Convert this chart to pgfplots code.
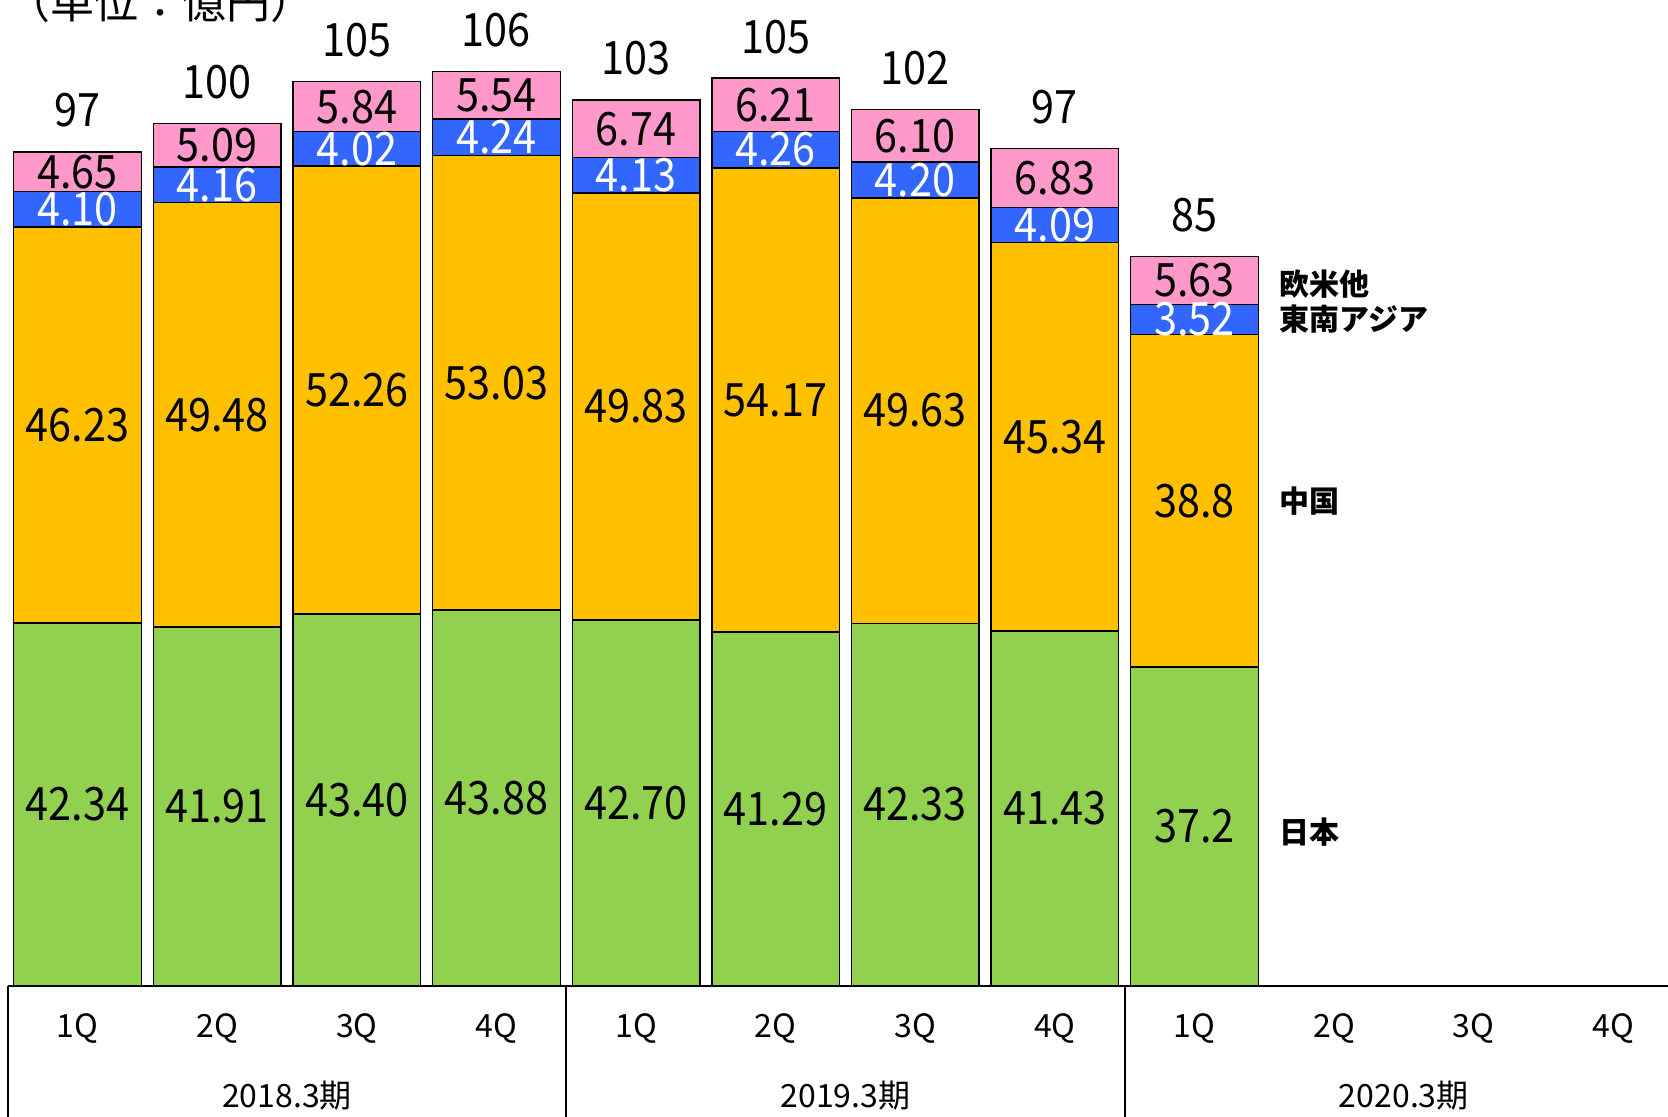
\documentclass[border=0pt]{standalone}
\usepackage{fontspec}
\usepackage{pgfplots}
\usepackage{pgfplotstable}
\pgfplotsset{compat=1.18}
\setmainfont{Noto Sans CJK JP}
\newfontfamily\numf{Noto Sans CJK JP}[FakeStretch=0.9]

\definecolor{cjp}{HTML}{92D050}
\definecolor{ccn}{HTML}{FFC000}
\definecolor{csea}{HTML}{3366FF}
\definecolor{ceu}{HTML}{FF99CC}

% 売上高 地域別 (億円)
\pgfplotstableread{
x jp    cn    sea  eu   tot
0 42.34 46.23 4.10 4.65 97
1 41.91 49.48 4.16 5.09 100
2 43.40 52.26 4.02 5.84 105
3 43.88 53.03 4.24 5.54 106
4 42.70 49.83 4.13 6.74 103
5 41.29 54.17 4.26 6.21 105
6 42.33 49.63 4.20 6.10 102
7 41.43 45.34 4.09 6.83 97
8 37.2  38.8  3.52 5.63 85
}\sales

\pgfplotsset{
  base/.style={
    at={(3.9pt,65.5pt)}, anchor=south west,
    scale only axis, width=837.6pt, height=492.8pt,
    xmin=-0.5, xmax=11.5, ymin=0, ymax=115,
    clip=false,
  },
  lbl/.style={draw=none, mark=none, nodes near coords,
    point meta=explicit symbolic,
    every node near coord/.append style={anchor=center, inner sep=0pt,
      font=\numf\fontsize{23}{23}\selectfont, #1}},
}

\begin{document}
\begin{tikzpicture}
\begin{axis}[base,
    ybar stacked, bar width=63.8pt,
    axis y line=none, axis x line*=bottom,
    x axis line style={-, line width=1pt},
    xtick={0,...,11}, xtick style={draw=none},
    xticklabels={1Q,2Q,3Q,4Q,1Q,2Q,3Q,4Q,1Q,2Q,3Q,4Q},
    xticklabel style={anchor=center, yshift=-21.3pt, font=\fontsize{16}{16}\selectfont},
    every axis plot/.append style={draw=black, line width=0.7pt},
  ]
  \addplot[fill=cjp] table[x=x, y=jp] {\sales};
  \addplot[fill=ccn] table[x=x, y=cn] {\sales};
  \addplot[fill=csea] table[x=x, y=sea] {\sales};
  \addplot[fill=ceu] table[x=x, y=eu] {\sales};

  \draw[line width=1pt] (axis cs:-0.5,0) -- (axis cs:-0.5,-40);
  \draw[line width=1pt] (axis cs:3.5,0) -- (axis cs:3.5,-40);
  \draw[line width=1pt] (axis cs:7.5,0) -- (axis cs:7.5,-40);
  \node[font=\fontsize{16}{16}\selectfont] at (axis cs:1.5,0) [yshift=-54.8pt] {2018.3期};
  \node[font=\fontsize{16}{16}\selectfont] at (axis cs:5.5,0) [yshift=-54.8pt] {2019.3期};
  \node[font=\fontsize{16}{16}\selectfont] at (axis cs:9.5,0) [yshift=-54.8pt] {2020.3期};

  \node[anchor=west, inner sep=0pt, font=\bfseries\fontsize{15}{15}\selectfont] at (axis cs:8.61,81.9) {欧米他};
  \node[anchor=west, inner sep=0pt, font=\bfseries\fontsize{15}{15}\selectfont] at (axis cs:8.61,77.8) {東南アジア};
  \node[anchor=west, inner sep=0pt, font=\bfseries\fontsize{15}{15}\selectfont] at (axis cs:8.61,56.6) {中国};
  \node[anchor=west, inner sep=0pt, font=\bfseries\fontsize{15}{15}\selectfont] at (axis cs:8.61,17.9) {日本};
\end{axis}

\begin{axis}[base, hide axis]
  \addplot[lbl] table[x=x, y expr=\thisrow{jp}/2, meta=jp] {\sales};
  \addplot[lbl] table[x=x, y expr=\thisrow{jp}+\thisrow{cn}/2, meta=cn] {\sales};
  \addplot[lbl={text=white}] table[x=x, y expr=\thisrow{jp}+\thisrow{cn}+\thisrow{sea}/2, meta=sea] {\sales};
  \addplot[lbl] table[x=x, y expr=\thisrow{jp}+\thisrow{cn}+\thisrow{sea}+\thisrow{eu}/2, meta=eu] {\sales};
  \addplot[lbl={yshift=20.7pt}] table[x=x, y expr=\thisrow{jp}+\thisrow{cn}+\thisrow{sea}+\thisrow{eu}, meta=tot] {\sales};
\end{axis}

\node[anchor=base, font=\fontsize{22}{22}\selectfont] at (80pt,549pt) {（単位：億円）};
\pgfresetboundingbox
\useasboundingbox (0,0) rectangle (834pt,558.5pt);
\end{tikzpicture}
\end{document}
